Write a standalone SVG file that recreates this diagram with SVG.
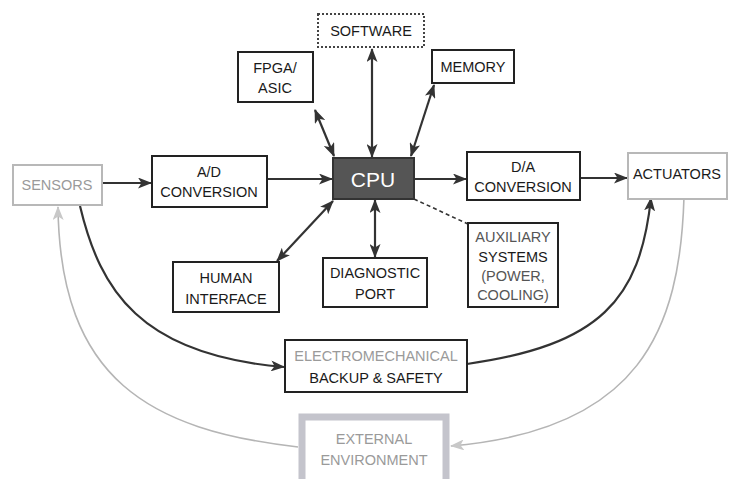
<svg xmlns="http://www.w3.org/2000/svg" width="729" height="479" viewBox="0 0 729 479">
<defs>
<style>
.box{fill:#fff;stroke:#222;stroke-width:2}
.lbox{fill:#fff;stroke:#b8b8b8;stroke-width:2}
.t{font-family:"Liberation Sans",Arial,sans-serif;font-size:14.5px;fill:#1a1a1a;text-anchor:middle}
.g{fill:#9a9a9a}
.ln{fill:none;stroke:#333;stroke-width:2.2}
.gl{fill:none;stroke:#b5b5b5;stroke-width:1.6}
</style>
<marker id="ah" viewBox="0 0 14 11" refX="13" refY="5.5" markerWidth="14" markerHeight="11" markerUnits="userSpaceOnUse" orient="auto-start-reverse">
<path d="M0,0 L14,5.5 L0,11 L3.5,5.5 Z" fill="#333"/>
</marker>
<marker id="gah" viewBox="0 0 14 11" refX="13" refY="5.5" markerWidth="14" markerHeight="11" markerUnits="userSpaceOnUse" orient="auto-start-reverse">
<path d="M0,0 L14,5.5 L0,11 L3.5,5.5 Z" fill="#c8c8c8"/>
</marker>
</defs>
<rect width="729" height="479" fill="#fff"/>
<g id="connectors">
<line class="ln" x1="102" y1="183" x2="151" y2="183" marker-end="url(#ah)"/>
<line class="ln" x1="267" y1="179" x2="332" y2="179" marker-end="url(#ah)"/>
<line class="ln" x1="414" y1="179" x2="466" y2="179" marker-end="url(#ah)"/>
<line class="ln" x1="580" y1="178" x2="627" y2="178" marker-end="url(#ah)"/>
<line class="ln" x1="334" y1="156" x2="315" y2="110" marker-start="url(#ah)" marker-end="url(#ah)"/>
<line class="ln" x1="372" y1="157" x2="372" y2="49" marker-start="url(#ah)" marker-end="url(#ah)"/>
<line class="ln" x1="411" y1="156" x2="434" y2="85" marker-start="url(#ah)" marker-end="url(#ah)"/>
<line class="ln" x1="333" y1="201" x2="277" y2="261" marker-start="url(#ah)" marker-end="url(#ah)"/>
<line class="ln" x1="375" y1="200" x2="375" y2="257" marker-start="url(#ah)" marker-end="url(#ah)"/>
<line x1="414" y1="199" x2="470" y2="225" stroke="#333" stroke-width="1.6" stroke-dasharray="4,3"/>
<path class="ln" d="M80,206 C100,290 140,355 284,367" marker-end="url(#ah)"/>
<path class="ln" d="M467,364 C600,345 640,300 651,198" marker-end="url(#ah)"/>
<path class="gl" d="M684,197 C680,330 640,430 451,446" marker-end="url(#gah)"/>
<path class="gl" d="M298,447 C150,430 60,380 58,207" marker-end="url(#gah)"/>
</g>
<g id="software">
<rect x="318" y="14" width="106" height="33" fill="#fff" stroke="#444" stroke-width="2" stroke-dasharray="2,2"/>
<text class="t" x="371" y="36">SOFTWARE</text>
</g>
<g id="fpga">
<rect class="box" x="238" y="52" width="75" height="50"/>
<text class="t" x="275" y="73">FPGA/</text>
<text class="t" x="275" y="93">ASIC</text>
</g>
<g id="memory">
<rect class="box" x="432" y="50" width="82" height="33"/>
<text class="t" x="473" y="72">MEMORY</text>
</g>
<g id="cpu">
<rect x="333" y="158" width="81" height="41" fill="#555" stroke="#333" stroke-width="2"/>
<text class="t" x="373" y="187" style="font-size:21px;fill:#fff">CPU</text>
</g>
<g id="sensors">
<rect class="lbox" x="13" y="165" width="89" height="40"/>
<text class="t g" x="57" y="190">SENSORS</text>
</g>
<g id="ad">
<rect class="box" x="152" y="156" width="115" height="51"/>
<text class="t" x="209" y="177">A/D</text>
<text class="t" x="209" y="197">CONVERSION</text>
</g>
<g id="da">
<rect class="box" x="467" y="152" width="113" height="48"/>
<text class="t" x="523" y="172">D/A</text>
<text class="t" x="523" y="192">CONVERSION</text>
</g>
<g id="actuators">
<rect class="lbox" x="628" y="153" width="99" height="46"/>
<text class="t" x="677" y="179">ACTUATORS</text>
</g>
<g id="auxiliary">
<rect class="box" x="468" y="223" width="90" height="84"/>
<text class="t" x="513" y="242" style="fill:#555">AUXILIARY</text>
<text class="t" x="513" y="262">SYSTEMS</text>
<text class="t" x="513" y="281" style="fill:#555">(POWER,</text>
<text class="t" x="513" y="300" style="fill:#555">COOLING)</text>
</g>
<g id="diagnostic">
<rect class="box" x="323" y="258" width="104" height="49"/>
<text class="t" x="375" y="278">DIAGNOSTIC</text>
<text class="t" x="375" y="299">PORT</text>
</g>
<g id="human">
<rect class="box" x="173" y="262" width="106" height="50"/>
<text class="t" x="226" y="283">HUMAN</text>
<text class="t" x="226" y="304">INTERFACE</text>
</g>
<g id="backup">
<rect class="box" x="285" y="340" width="182" height="52"/>
<text class="t g" x="376" y="361">ELECTROMECHANICAL</text>
<text class="t" x="376" y="383">BACKUP &amp; SAFETY</text>
</g>
<g id="environment">
<rect x="302" y="417" width="144" height="66" fill="#fff" stroke="#c4c4cc" stroke-width="7"/>
<text class="t g" x="374" y="444">EXTERNAL</text>
<text class="t g" x="374" y="465">ENVIRONMENT</text>
</g>
</svg>
